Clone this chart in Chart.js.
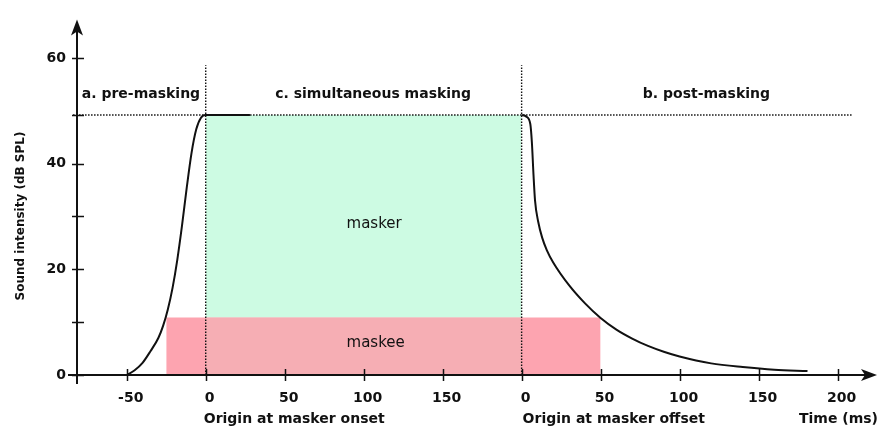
<!DOCTYPE html>
<html>
<head>
<meta charset="utf-8">
<script src="https://cdn.jsdelivr.net/npm/chart.js@4.4.1/dist/chart.umd.min.js"></script>
<style>
html, body { margin: 0; padding: 0; background: #fff; }
</style>
</head>
<body>
<canvas id="c" width="882" height="430"></canvas>
<script>
// Eje de tiempo continuo: inicio del masker en 0, fin en 200 ms
const xTickValues = [-50, 0, 50, 100, 150, 200, 250, 300, 350, 400];
const xTickLabels = ['-50', '0', '50', '100', '150', '0', '50', '100', '150', '200'];
const yTickValues = [0, 20, 40, 60];
const yTickMarks = [0, 10, 20, 30, 40, 49.2, 60];

const plateau = 49.2;
const maskeeLevel = 10.9;
const masker = [0, 200];
const maskee = [-25, 250];

// Curva de pre-masking (tiempo, dB)
const preTime = [-50, -45, -40, -35, -30, -27, -24, -21, -18, -15, -12, -9, -6, -3, 0, 28];
const preLevel = [0, 0.9, 2.3, 4.5, 7.0, 9.3, 12.4, 16.5, 21.8, 28.3, 35.5, 42.0, 46.5, 48.7, 49.2, 49.2];

// Curva de post-masking
const postTime = [200, 203, 205.5, 206.5, 207.5, 208.5, 210.5, 213, 216, 220, 230, 240, 250, 260, 270, 280, 290, 300, 320, 340, 360, 381];
const postLevel = [49.2, 48.9, 47.5, 44, 38, 33, 29, 26, 23.6, 21.3, 17, 13.6, 10.8, 8.6, 6.9, 5.5, 4.4, 3.5, 2.2, 1.5, 1.0, 0.75];

const FONT = 'DejaVu Sans';
const INK = '#111';

const pts = (xs, ys) => xs.map((x, i) => ({ x, y: ys[i] }));

const dotted = {
    borderColor: INK,
    borderWidth: 1.4,
    borderDash: [1.5, 1.5],
    pointRadius: 0,
    fill: false
};

const curve = {
    borderColor: INK,
    borderWidth: 2,
    pointRadius: 0,
    cubicInterpolationMode: 'monotone',
    fill: false
};

// Ejes con flechas, marcas y textos
const decorations = {
    id: 'decorations',
    afterDatasetsDraw(chart) {
        const { ctx, scales: { x, y } } = chart;
        const x0 = x.getPixelForValue(x.min);
        const y0 = y.getPixelForValue(0);
        const xEnd = x.getPixelForValue(x.max);
        const yEnd = y.getPixelForValue(y.max);
        ctx.save();
        ctx.strokeStyle = INK;
        ctx.fillStyle = INK;
        ctx.lineWidth = 2;
        ctx.beginPath();
        ctx.moveTo(x0 - 9, y0);
        ctx.lineTo(xEnd - 8, y0);
        ctx.moveTo(x0, y0 + 9);
        ctx.lineTo(x0, yEnd + 8);
        ctx.stroke();
        // flechas
        ctx.beginPath();
        ctx.moveTo(xEnd, y0);
        ctx.lineTo(xEnd - 16, y0 - 6);
        ctx.lineTo(xEnd - 12, y0);
        ctx.lineTo(xEnd - 16, y0 + 6);
        ctx.closePath();
        ctx.fill();
        ctx.beginPath();
        ctx.moveTo(x0, yEnd);
        ctx.lineTo(x0 - 6, yEnd + 16);
        ctx.lineTo(x0, yEnd + 12);
        ctx.lineTo(x0 + 6, yEnd + 16);
        ctx.closePath();
        ctx.fill();
        // marcas
        ctx.lineWidth = 1.5;
        ctx.beginPath();
        xTickValues.forEach(v => {
            const px = Math.round(x.getPixelForValue(v)) + 0.5;
            ctx.moveTo(px, y0 - 6);
            ctx.lineTo(px, y0 + 6);
        });
        yTickMarks.forEach(v => {
            const py = Math.round(y.getPixelForValue(v)) + 0.5;
            ctx.moveTo(x0 - 5, py);
            ctx.lineTo(x0 + 7, py);
        });
        ctx.stroke();
        ctx.restore();
    },
    afterDraw(chart) {
        const { ctx, scales: { x, y } } = chart;
        const text = (s, vx, vy, font) => {
            ctx.font = font;
            ctx.textAlign = 'center';
            ctx.fillText(s, x.getPixelForValue(vx), y.getPixelForValue(vy));
        };
        ctx.save();
        ctx.fillStyle = INK;
        ctx.textBaseline = 'middle';
        const bold = 'bold 14px "' + FONT + '"';
        text('a. pre-masking', -41, 53.1, bold);
        text('c. simultaneous masking', 106, 53.1, bold);
        text('b. post-masking', 317, 53.1, bold);
        text('masker', 106.6, 28.6, '15px "' + FONT + '"');
        text('maskee', 107.6, 6.0, '15px "' + FONT + '"');
        const by = y.getPixelForValue(0) + 44;
        ctx.font = bold;
        ctx.textAlign = 'left';
        ctx.fillText('Origin at masker onset', x.getPixelForValue(0) - 2, by);
        ctx.fillText('Origin at masker offset', x.getPixelForValue(200) + 1, by);
        ctx.textAlign = 'right';
        ctx.fillText('Time (ms)', x.getPixelForValue(x.max) + 1, by);
        // titulo eje y
        ctx.translate(21, 216);
        ctx.rotate(-Math.PI / 2);
        ctx.textAlign = 'center';
        ctx.font = 'bold 12px "' + FONT + '"';
        ctx.fillText('Sound intensity (dB SPL)', 0, 0);
        ctx.restore();
    }
};

// Chart.js pinta el primer dataset encima: curvas primero, rellenos al final
new Chart(document.getElementById('c'), {
    type: 'line',
    data: {
        datasets: [
            { ...curve, data: pts(preTime, preLevel) },
            { ...curve, data: pts(postTime, postLevel) },
            { ...dotted, data: pts([-84, 409], [plateau, plateau]), clip: false },
            { ...dotted, data: pts([0, 0], [0, 58.6]) },
            { ...dotted, data: pts([200, 200], [0, 58.6]) },
            {
                data: pts(masker, [maskeeLevel, maskeeLevel]),
                fill: { value: 0 },
                backgroundColor: '#f6aeb4',
                borderWidth: 0,
                pointRadius: 0
            },
            {
                data: pts(masker, [plateau, plateau]),
                fill: { value: maskeeLevel },
                backgroundColor: '#cdfbe3',
                borderWidth: 0,
                pointRadius: 0
            },
            {
                data: pts(maskee, [maskeeLevel, maskeeLevel]),
                fill: { value: 0 },
                backgroundColor: '#fda4b0',
                borderWidth: 0,
                pointRadius: 0
            }
        ]
    },
    options: {
        responsive: false,
        animation: false,
        layout: { padding: { top: 15, right: 5, left: 0, bottom: 0 } },
        plugins: { legend: { display: false }, tooltip: { enabled: false } },
        scales: {
            x: {
                type: 'linear',
                min: -81.5,
                max: 425,
                grid: { display: false, drawTicks: false },
                border: { display: false },
                afterBuildTicks: s => { s.ticks = xTickValues.map(v => ({ value: v })); },
                afterFit: s => { s.height = 55; },
                ticks: {
                    autoSkip: false,
                    maxRotation: 0,
                    padding: 15,
                    labelOffset: 4,
                    color: INK,
                    font: { family: FONT, size: 14, weight: 'bold' },
                    callback: v => xTickLabels[xTickValues.indexOf(v)]
                }
            },
            y: {
                min: 0,
                max: 67.3,
                grid: { display: false, drawTicks: false },
                border: { display: false },
                afterBuildTicks: s => { s.ticks = yTickValues.map(v => ({ value: v })); },
                afterFit: s => { s.width = 77; },
                ticks: {
                    padding: 11,
                    color: INK,
                    font: { family: FONT, size: 14, weight: 'bold' }
                }
            }
        }
    },
    plugins: [decorations]
});
</script>
</body>
</html>
